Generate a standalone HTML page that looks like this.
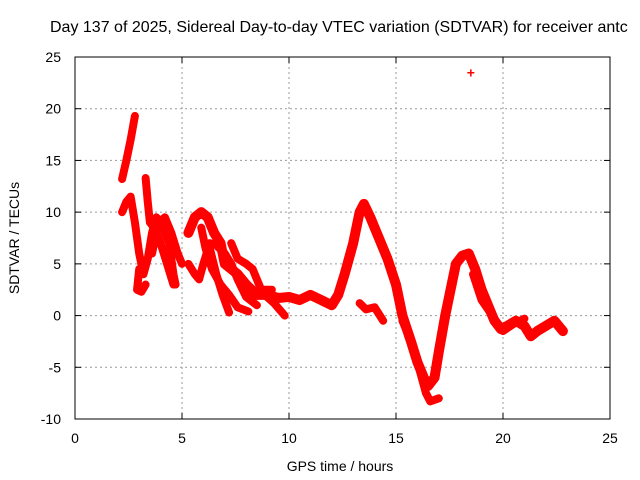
<!DOCTYPE html>
<html><head><meta charset="utf-8"><style>
body{margin:0;background:#fff}
svg{display:block;font-family:"Liberation Sans",sans-serif}
</style></head><body>
<svg id="chart" width="640" height="480" viewBox="0 0 640 480" xmlns="http://www.w3.org/2000/svg">
<text x="50" y="32" font-size="16" fill="#000">Day 137 of 2025, Sidereal Day-to-day VTEC variation (SDTVAR) for receiver antc</text>
<text x="340" y="471" font-size="14" text-anchor="middle">GPS time / hours</text>
<text transform="translate(19,238) rotate(-90)" font-size="14" text-anchor="middle">SDTVAR / TECUs</text>
<g id="grid"></g><g id="ticks"></g><g id="marks"></g>
<rect x="75" y="57" width="535" height="362" fill="none" stroke="#000" stroke-width="1"/>
</svg>
<script>
const xTicks=[0,5,10,15,20,25];
const yTicks=[-10,-5,0,5,10,15,20,25];
const traceA=[[2.2,13.2],[2.4,15],[2.6,17],[2.8,19.3]];
const traceB=[[2.2,10],[2.4,11],[2.6,11.5],[2.8,9],[3.0,6],[3.2,4],[3.4,5.5],[3.6,8],[3.8,9.5],[4.0,9],[4.2,8],[4.4,7],[4.6,4],[4.7,3]];
const traceC=[[3.0,4.5],[2.9,2.5],[3.1,2.3],[3.3,3]];
const traceD=[[3.3,13.3],[3.4,11],[3.5,9],[3.7,8.5],[4,7],[4.3,5],[4.6,3]];
const traceE=[[3.6,6],[3.9,9],[4.2,9.5],[4.5,8],[4.8,6],[5.0,5]];
const traceMain=[[5.3,8],[5.6,9.5],[5.9,10],[6.2,9.5],[6.5,8],[6.8,7],[7.0,5],[7.3,4.5],[7.6,4],[8,3],[8.5,2],[9,2],[9.5,1.7],[10,1.8],[10.5,1.5],[11,2],[11.5,1.5],[12,1],[12.3,2],[12.6,4],[13,7],[13.3,10],[13.5,10.8],[13.8,9.5],[14.2,7.5],[14.6,5.5],[15,3],[15.3,0],[15.7,-2.5],[16,-4.5],[16.3,-6],[16.5,-6.8],[16.8,-6],[17,-3.5],[17.3,0],[17.6,3],[17.8,5],[18.1,5.8],[18.4,6],[18.7,4.5],[19,2.5],[19.3,1],[19.6,-0.5],[19.9,-1.3],[20.2,-1],[20.6,-0.5],[21,-1],[21.3,-2],[21.6,-1.5],[22,-1],[22.4,-0.5],[22.8,-1.5]];
const traceF=[[5.3,5],[5.6,4],[5.8,3.5],[6.0,5],[6.3,7],[6.6,6.8],[7,6],[7.3,5],[7.6,3.5],[8,1.8],[8.5,1]];
const traceG=[[5.9,8.5],[6.1,6.5],[6.4,4.5],[6.8,3],[7.2,2],[7.6,0.8],[8.1,0.4]];
const traceH=[[6.3,6.5],[6.6,4],[6.9,2],[7.2,0.3]];
const traceI=[[8.6,2.5],[9.3,1.2],[9.8,0]];
const traceJ=[[15.3,-0.5],[15.6,-2],[16,-4.5],[16.4,-7.5],[16.6,-8.3],[17,-8]];
const traceK=[[13.3,1.2],[13.6,0.6],[14,0.8],[14.4,-0.5]];
const traceL=[[7.3,7],[7.6,5.5],[8,5],[8.3,4.5],[8.7,2.5],[9.2,2.5]];
const traceM=[[18.6,4],[19,1.5],[19.5,0],[20,-1.5],[20.5,-0.8],[21,-0.3]];
const outliers=[[18.5,23.5]];
const traces=[traceA,traceB,traceC,traceD,traceMain,traceF,traceG,traceH,traceI,traceJ,traceK,traceL,traceM,traceE];
const NS="http://www.w3.org/2000/svg";
const X0=75,X1=610,Y0=419,Y1=57;
function sx(v){return X0+(v-0)/(25-0)*(X1-X0);}
function sy(v){return Y0-(v+10)/35*(Y0-Y1);}
const grid=document.getElementById('grid'),ticks=document.getElementById('ticks'),marks=document.getElementById('marks');
function mk(t,a,p){const e=document.createElementNS(NS,t);for(const k in a)e.setAttribute(k,a[k]);p.appendChild(e);return e;}
xTicks.forEach(v=>{const x=sx(v);
 if(v>0&&v<25){const g=mk('line',{x1:x,y1:Y1,x2:x,y2:Y0,stroke:'#999','stroke-dasharray':'2,3'},grid);
 
 }
 const t=mk('text',{x:x,y:443,'font-size':14,'text-anchor':'middle'},ticks);t.textContent=v;
 
 
 mk('line',{x1:x,y1:Y0,x2:x,y2:Y0-6,stroke:'#000'},ticks);mk('line',{x1:x,y1:Y1,x2:x,y2:Y1+6,stroke:'#000'},ticks);
});
yTicks.forEach(v=>{const y=sy(v);
 if(v>-10&&v<25){const g=mk('line',{x1:X0,y1:y,x2:X1,y2:y,stroke:'#999','stroke-dasharray':'2,3'},grid);
 
 }
 const t=mk('text',{x:61,y:y+5,'font-size':14,'text-anchor':'end'},ticks);t.textContent=v;
 
 
 mk('line',{x1:X0,y1:y,x2:X0+6,y2:y,stroke:'#000'},ticks);mk('line',{x1:X1,y1:y,x2:X1-6,y2:y,stroke:'#000'},ticks);
});
traces.forEach((tr,i)=>{
 const p=mk('polyline',{points:tr.map(d=>sx(d[0])+','+sy(d[1])).join(' '),fill:'none',stroke:'#f00','stroke-width':i===4?10:8,'stroke-linejoin':'round','stroke-linecap':'round'},marks);
 
 
});
outliers.forEach(d=>{
 const t=mk('text',{x:sx(d[0]),y:sy(d[1])+5,'font-size':14,'font-weight':'bold','text-anchor':'middle',fill:'#f00'},marks);t.textContent='+';
 
 
});
</script>
</body></html>
